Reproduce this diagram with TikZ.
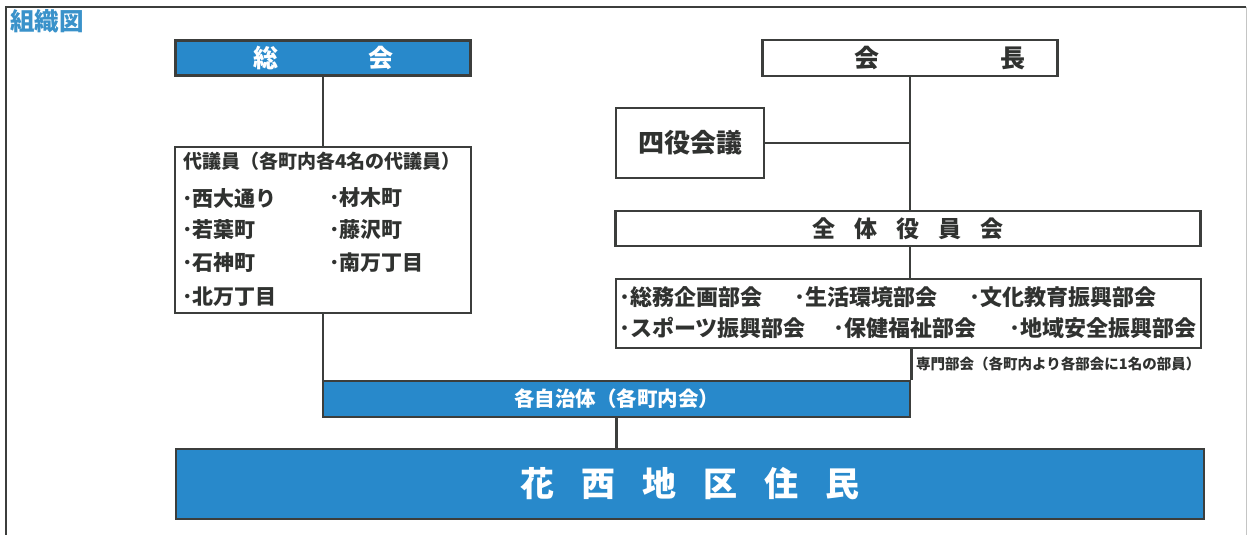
\documentclass[tikz,border=0pt]{standalone}
\usepackage{fontspec}
\newfontfamily\jp{Noto Sans CJK JP}
\definecolor{boxblue}{RGB}{40,137,203}
\definecolor{titleblue}{RGB}{58,146,202}
\definecolor{edge}{RGB}{60,62,60}
\definecolor{ink}{RGB}{48,50,48}
\tikzset{
  bluebox/.style={draw=edge, line width=2.8pt, fill=boxblue, text=white, inner sep=0pt, font=\jp\bfseries},
  whitebox/.style={draw=edge, line width=2.8pt, fill=white, text=ink, inner sep=0pt, font=\jp\bfseries},
  conn/.style={draw=edge, line width=2.6pt},
  label/.style={inner sep=0pt, text=ink, font=\jp\bfseries},
  frameline/.style={draw=edge, line width=1.6pt}
}
\begin{document}
\begin{tikzpicture}[x=1pt,y=-1pt]
\useasboundingbox (0,0) rectangle (1247,535);
% outer frame
\coordinate (fbl) at (6,535);
\coordinate (ftl) at (6,7);
\coordinate (ftr) at (1246,7);
\coordinate (fbr) at (1246,535);
\draw[frameline] (fbl) -- (ftl) -- (ftr);
\draw[draw=edge!30, line width=1pt] (ftr) -- (fbr);
% title
\node[anchor=north west, inner sep=0pt, text=titleblue, font=\jp\bfseries\fontsize{24.5}{26}\selectfont] (title) at (10,9.5) {組織図};
% boxes
\node[bluebox, minimum width=295pt, minimum height=35pt, font=\jp\bfseries\fontsize{25}{27}\selectfont] (sokai) at (323,58) {総\hspace{90pt}会};
\node[whitebox, minimum width=295pt, minimum height=36pt] (kaicho) at (910,58) {};
\node[label, font=\jp\bfseries\fontsize{25}{27}\selectfont] (kaichotxt) at (940,58) {会\hspace{121pt}長};
\node[whitebox, minimum width=148pt, minimum height=70pt, font=\jp\bfseries\fontsize{26}{28}\selectfont] (shiyaku) at (690,143) {四役会議};
\node[whitebox, minimum width=296pt, minimum height=166pt] (daigi) at (323,230) {};
\node[whitebox, minimum width=585pt, minimum height=35pt, font=\jp\bfseries\fontsize{23}{25}\selectfont] (zentai) at (908,228.5) {全\hspace{19pt}体\hspace{19pt}役\hspace{19pt}員\hspace{19pt}会};
\node[whitebox, minimum width=585pt, minimum height=69pt] (bukai) at (908.5,313.5) {};
\node[bluebox, minimum width=587pt, minimum height=36pt, font=\jp\bfseries\fontsize{20.5}{22}\selectfont] (jichi) at (616.5,399) {各自治体（各町内会）};
\node[bluebox, minimum width=1028pt, minimum height=70pt, font=\jp\bfseries\fontsize{34}{36}\selectfont] (hanishi) at (690,484) {花\hspace{27pt}西\hspace{27pt}地\hspace{27pt}区\hspace{27pt}住\hspace{27pt}民};
% texts in daigi box
\begin{scope}[every node/.style={label, anchor=west, font=\jp\bfseries\fontsize{21}{23}\selectfont}]
\node[font=\jp\bfseries\fontsize{19}{21}\selectfont] (dhead) at (183,161) {代議員（各町内各4名の代議員）};
\node (d1) at (182,198) {･西大通り};
\node (d2) at (329,198) {･材木町};
\node (d3) at (182,230) {･若葉町};
\node (d4) at (329,230) {･藤沢町};
\node (d5) at (182,263) {･石神町};
\node (d6) at (329,263) {･南万丁目};
\node (d7) at (182,297) {･北万丁目};
\end{scope}
% texts in bukai box
\begin{scope}[every node/.style={label, anchor=west, font=\jp\bfseries\fontsize{22}{24}\selectfont}]
\node (b1) at (619,297) {･総務企画部会};
\node (b2) at (794,297) {･生活環境部会};
\node (b3) at (969,297) {･文化教育振興部会};
\node (b4) at (619,328) {･スポーツ振興部会};
\node (b5) at (833,328) {･保健福祉部会};
\node (b6) at (1009,328) {･地域安全振興部会};
\end{scope}
\node[label, anchor=west, font=\jp\bfseries\fontsize{14.5}{16}\selectfont] (senmon) at (916,364) {専門部会（各町内より各部会に1名の部員）};
% connectors
\draw[conn] (sokai.south) -- (daigi.north);
\draw[conn] (kaicho.south) -- (kaicho.south |- zentai.north);
\coordinate (shj) at (kaicho.south |- shiyaku.east);
\draw[conn] (shiyaku.east) -- (shj);
\draw[conn] (kaicho.south |- zentai.south) -- (kaicho.south |- bukai.north);
\draw[conn] (jichi.north east |- bukai.south) -- (jichi.north east);
\draw[conn] (daigi.south) -- (daigi.south |- jichi.north);
\draw[conn] (jichi.south) -- (jichi.south |- hanishi.north);
\end{tikzpicture}
\end{document}
